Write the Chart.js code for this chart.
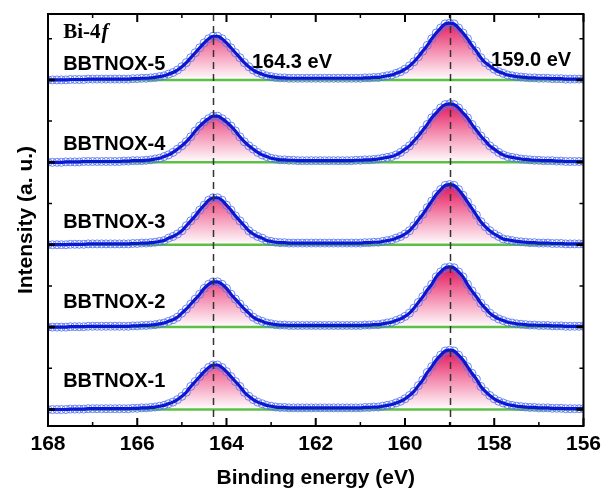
<!DOCTYPE html>
<html>
<head>
<meta charset="UTF-8">
<title>Bi-4f XPS spectra</title>
<script src="https://cdn.jsdelivr.net/npm/chart.js@4.4.0/dist/chart.umd.min.js"></script>
<style>
  body {margin: 0; background: #fff;}
  #chart {display: block;}
</style>
</head>
<body>
<canvas id="chart" width="607" height="492"></canvas>
<script>
// binding energy grid, 168.0 -> 156.0 eV in 0.1 eV steps (121 points)
var energies = [];
for (var i = 0; i <= 120; i++) energies.push(Math.round((168 - i * 0.1) * 10) / 10);

var sampleNames = ['BBTNOX-1', 'BBTNOX-2', 'BBTNOX-3', 'BBTNOX-4', 'BBTNOX-5'];
var offsets = [0, 100, 200, 300, 400];   // vertical stacking of the spectra
var peakPositions = [164.3, 159.0];
var peakNotes = ['164.3 eV', '159.0 eV'];

// intensities (a. u.), one value per energy point
var bbtnox1 = [
  0,0,0,0,0,0.5,0.5,0.5,0.5,1,1,1,1,1,1,
  1,1,1,1,1.5,1.5,2,2,2.5,
  3,4,5,7,9,12,16,21,28,34,40,46,51,54,54,51,46,40,34,28,21,16,12,9,7,5,4,3,
  2.5,2.5,2,2,2,2,2,2,2,2,2,2,2,2,2,2,2,2,2,2.5,2.5,3,3,
  4,5,6,8,10,13,17,22,29,36,45,52,60,66,71,72,71,66,60,52,44,37,28,22,17,13,10,8,6,5,4,
  3.5,3,2.5,2.5,2,2,2,1.5,1.5,1.5,1,1,1,1,1
];
var bbtnox2 = [
  0,0,0,0,0,0.5,0.5,0.5,0.5,1,1,1,1,1,1,
  1,1,1,1,1.5,1.5,2,2,2.5,
  3,4,5,7,9,12,17,22,28,34,40,47,52,55,55,52,47,40,34,28,22,17,12,9,7,5,4,3,
  2.5,2.5,2,2,2,2,2,2,2,2,2,2,2,2,2,2,2,2,2,2.5,2.5,3,3,
  4,5,6,8,10,13,17,23,30,37,45,52,61,67,72,73,72,67,61,52,44,37,29,23,17,13,10,8,6,5,4,
  3.5,3,2.5,2.5,2,2,2,1.5,1.5,1.5,1,1,1,1,1
];
var bbtnox3 = [
  0,0,0,0,0,0.5,0.5,0.5,0.5,1,1,1,1,1,1,
  1,1,1,1,1.5,1.5,2,2,2.5,
  3,4,5,8,10,13,17,23,29,35,42,48,54,57,57,54,48,42,35,29,23,17,13,10,8,5,4,3,
  2.5,2.5,2,2,2,2,2,2,2,2,2,2,2,2,2,2,2,2,2,2.5,2.5,3,3,
  4,5,6,8,10,13,17,23,30,37,45,53,61,67,72,73,72,67,60,52,44,36,28,22,17,13,10,7,6,5,4,
  3.5,3,2.5,2.5,2,2,2,1.5,1.5,1.5,1,1,1,1,1
];
var bbtnox4 = [
  0,0,0,0,0.5,0.5,0.5,0.5,1,1,1,1,1,1,1,
  1,1,1.5,1.5,2,2,2,2.5,3,
  4,5,7,9,12,16,20,25,31,38,44,49,53,56,56,53,49,44,38,31,25,20,16,12,9,7,5,4,
  3,3,2.5,2.5,2,2,2,2,2,2,2,2,2,2,2,2,2,2.5,2.5,3,3,3.5,4,
  5,6,7,9,12,16,20,26,32,39,46,54,60,66,70,71,70,66,60,54,46,39,32,26,20,16,12,9,7,6,5,
  4,3.5,3,2.5,2.5,2,2,2,1.5,1.5,1,1,1,1,1
];
var bbtnox5 = [
  0,0,0,0,0,0.5,0.5,0.5,0.5,1,1,1,1,1,1,
  1,1,1,1,1.5,1.5,2,2,2.5,
  3,4,5,7,9,12,16,21,27,33,39,45,50,53,53,50,45,39,33,27,21,16,12,9,7,5,4,3,
  2.5,2.5,2,2,2,2,2,2,2,2,2,2,2,2,2,2,2,2,2,2.5,2.5,3,3,
  4,5,6,8,10,13,17,22,28,35,42,50,57,63,68,69,68,63,57,50,42,35,27,21,17,13,10,8,6,5,4,
  3.5,3,2.5,2.5,2,2,2,1.5,1.5,1.5,1,1,1,1,1
];
var spectra = [bbtnox1, bbtnox2, bbtnox3, bbtnox4, bbtnox5];

function pointsOf(values, off) {
  return values.map(function (v, i) { return {x: energies[i], y: v + off}; });
}

function pinkFill(off) {
  return function (ctx) {
    var chart = ctx.chart;
    if (!chart.chartArea) return 'rgba(240,80,130,0.5)';
    var y = chart.scales.y;
    var g = chart.ctx.createLinearGradient(0, y.getPixelForValue(off + 72), 0, y.getPixelForValue(off));
    g.addColorStop(0, 'rgb(228,20,88)');
    g.addColorStop(0.5, 'rgb(244,140,176)');
    g.addColorStop(1, 'rgb(255,255,255)');
    return g;
  };
}

var datasets = [];
spectra.forEach(function (vals, k) {
  var off = offsets[k];
  var pts = pointsOf(vals, off);
  datasets.push({   // fitted envelope
    label: sampleNames[k] + ' fit', data: pts, order: 1,
    borderColor: '#0a18d2', borderWidth: 3.2, pointRadius: 0,
    cubicInterpolationMode: 'monotone', fill: false
  });
  datasets.push({   // measured points
    label: sampleNames[k], data: pts, order: 2, showLine: false,
    pointRadius: 4, pointBorderWidth: 1,
    pointBorderColor: 'rgba(85,115,240,0.85)', pointBackgroundColor: 'rgba(0,0,0,0)'
  });
  datasets.push({   // background
    label: sampleNames[k] + ' bg', data: [{x: 168, y: off}, {x: 156, y: off}], order: 3,
    borderColor: '#5cbf46', borderWidth: 2.5, pointRadius: 0
  });
  datasets.push({   // peak components
    label: sampleNames[k] + ' peaks', data: pts, order: 4,
    borderWidth: 0, pointRadius: 0, cubicInterpolationMode: 'monotone',
    backgroundColor: pinkFill(off), fill: {value: off}
  });
});

// labels placed in data units (energy, intensity)
var labelLift = [27, 23, 20, 15, 12];

var decor = {
  id: 'decor',
  afterDatasetsDraw: function (chart) {
    var c = chart.ctx, a = chart.chartArea, xs = chart.scales.x;
    c.save();
    c.strokeStyle = '#333';
    c.lineWidth = 1.5;
    c.setLineDash([7, 5]);
    peakPositions.forEach(function (e) {
      var px = Math.round(xs.getPixelForValue(e)) + 0.5;
      c.beginPath(); c.moveTo(px, a.top); c.lineTo(px, a.bottom); c.stroke();
    });
    c.restore();
  },
  afterDraw: function (chart) {
    var c = chart.ctx, a = chart.chartArea, xs = chart.scales.x, ys = chart.scales.y;
    c.save();
    c.strokeStyle = '#000';
    c.lineWidth = 2;
    c.strokeRect(a.left, a.top, a.right - a.left, a.bottom - a.top);
    // inward ticks on the energy axis
    for (var e = 156; e <= 168; e++) {
      var px = xs.getPixelForValue(e), len = e % 2 === 0 ? 8 : 4;
      c.lineWidth = e % 2 === 0 ? 2 : 1.5;
      c.beginPath();
      c.moveTo(px, a.bottom); c.lineTo(px, a.bottom - len);
      c.moveTo(px, a.top); c.lineTo(px, a.top + len);
      c.stroke();
    }
    // inward ticks on the intensity axis
    for (var v = 0; v <= 450; v += 50) {
      var py = ys.getPixelForValue(v), l2 = v % 100 === 0 ? 7 : 4;
      c.lineWidth = v % 100 === 0 ? 2.5 : 1.5;
      c.beginPath();
      c.moveTo(a.left, py); c.lineTo(a.left + l2, py);
      c.moveTo(a.right, py); c.lineTo(a.right - l2, py);
      c.stroke();
    }
    c.fillStyle = '#000';
    c.textBaseline = 'alphabetic';
    c.font = 'bold 20px "Liberation Sans", Arial, sans-serif';
    sampleNames.forEach(function (n, k) {
      c.fillText(n, xs.getPixelForValue(167.66), ys.getPixelForValue(offsets[k] + labelLift[k]));
    });
    c.fillText(peakNotes[0], xs.getPixelForValue(163.43), ys.getPixelForValue(414));
    c.fillText(peakNotes[1], xs.getPixelForValue(158.07), ys.getPixelForValue(417));
    // Bi-4f with italic f
    var bx = xs.getPixelForValue(167.66), by = ys.getPixelForValue(451);
    c.font = 'bold 21px "Liberation Serif", "Times New Roman", serif';
    c.fillText('Bi-4', bx, by);
    var w = c.measureText('Bi-4').width;
    c.font = 'italic bold 21px "Liberation Serif", "Times New Roman", serif';
    c.fillText('f', bx + w + 1, by);
    c.restore();
  }
};

var chart = new Chart(document.getElementById('chart'), {
  type: 'line',
  data: {datasets: datasets},
  options: {
    responsive: false,
    animation: false,
    layout: {padding: {top: 14, right: 21, bottom: 0, left: 0}},
    plugins: {legend: {display: false}, tooltip: {enabled: false}},
    scales: {
      x: {
        type: 'linear', reverse: true, min: 156, max: 168,
        grid: {display: false, drawTicks: false},
        border: {display: false},
        ticks: {stepSize: 2, autoSkip: false, padding: 6, color: '#000',
          font: {family: '"Liberation Sans", Arial, sans-serif', size: 21, weight: 'bold'}},
        title: {display: true, text: 'Binding energy (eV)', color: '#000',
          padding: {top: 0, bottom: 1},
          font: {family: '"Liberation Sans", Arial, sans-serif', size: 21, weight: 'bold'}},
        afterFit: function (s) { s.height = 66; }
      },
      y: {
        min: -20, max: 480,
        grid: {display: false, drawTicks: false},
        border: {display: false},
        ticks: {display: false},
        title: {display: true, text: 'Intensity (a. u.)', color: '#000',
          padding: {top: 14, bottom: 0},
          font: {family: '"Liberation Sans", Arial, sans-serif', size: 21, weight: 'bold'}},
        afterFit: function (s) { s.width = 48; }
      }
    }
  },
  plugins: [decor]
});
</script>
</body>
</html>
